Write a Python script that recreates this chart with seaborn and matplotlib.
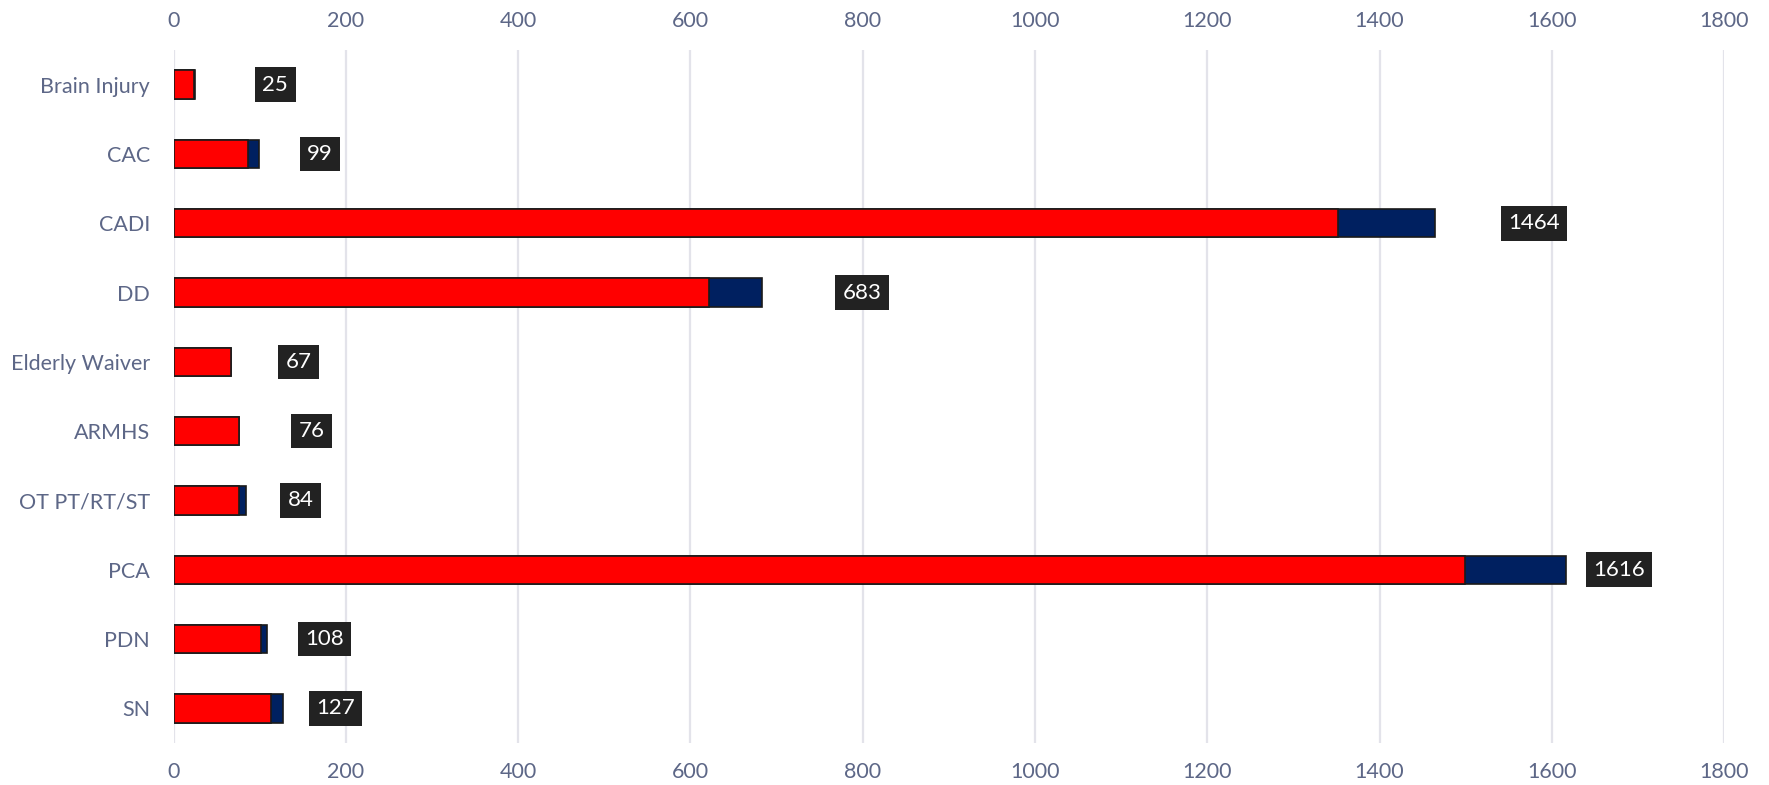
import pandas as pd
import matplotlib.pyplot as plt
import seaborn as sns

# categories and values, top row first
programs = ['Brain Injury', 'CAC', 'CADI', 'DD', 'Elderly Waiver',
            'ARMHS', 'OT PT/RT/ST', 'PCA', 'PDN', 'SN']
red_part = [23, 86, 1352, 622, 66, 76, 76, 1499, 101, 113]
totals = [25, 99, 1464, 683, 67, 76, 84, 1616, 108, 127]

# where the total labels sit to the right of each bar (in data units)
label_offset = [93, 71, 115, 116, 78, 84, 63, 62, 67, 61]

df = pd.DataFrame({'program': programs, 'red': red_part, 'total': totals})

sns.set_style('white')
plt.rcParams['font.family'] = ['Lato', 'DejaVu Sans']

fig = plt.figure(figsize=(17.69, 7.85), dpi=100)
ax = fig.add_axes([0.0982, 0.0535, 0.8764, 0.8828])

# navy = full total, red drawn on top of it
sns.barplot(data=df, x='total', y='program', orient='h', color='#002060',
            saturation=1, width=0.41, edgecolor='#1a1a1a', linewidth=1.2,
            ax=ax, zorder=2)
sns.barplot(data=df, x='red', y='program', orient='h', color='#ff0000',
            saturation=1, width=0.41, edgecolor='#1a1a1a', linewidth=1.2,
            ax=ax, zorder=3)

for i, (t, off) in enumerate(zip(totals, label_offset)):
    ax.text(t + off, i, str(t), ha='center', va='center', color='white',
            fontsize=16,
            bbox=dict(boxstyle='square,pad=0.33', fc='#222222', ec='none'),
            zorder=4)

ax.set_xlim(0, 1800)
ax.set_ylim(9.5, -0.5)
ax.set_xticks(range(0, 1801, 200))
ax.set_xlabel('')
ax.set_ylabel('')
ax.grid(axis='x', color='#e3e3ea', linewidth=1.6, zorder=0)
ax.set_axisbelow(True)
for s in ax.spines.values():
    s.set_visible(False)
ax.tick_params(axis='both', length=0, colors='#5d6787', labelsize=15.5)
ax.tick_params(axis='x', top=True, labeltop=True, bottom=True,
               labelbottom=True, pad=14)
ax.tick_params(axis='y', pad=17)

fig.savefig('out.png', dpi=100)
